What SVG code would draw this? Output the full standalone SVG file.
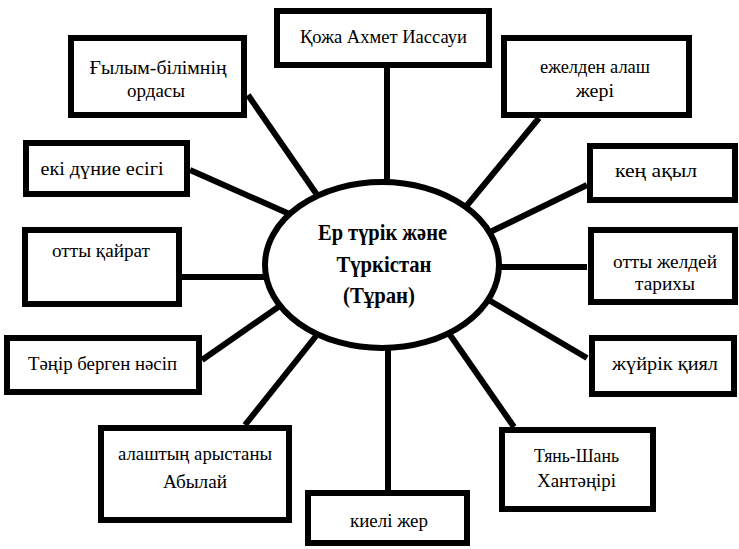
<svg xmlns="http://www.w3.org/2000/svg" width="739" height="549" viewBox="0 0 739 549" font-family="Liberation Serif, serif">
<style>
.box{fill:#fff;stroke:#000;stroke-width:6}
.t{font-size:19.5px;fill:#000;text-anchor:middle}
.c{font-size:24px;font-weight:bold;fill:#000;text-anchor:middle}
.ln{stroke:#000;stroke-width:6;fill:none}
</style>
<rect width="739" height="549" fill="#fff"/>
<g id="connectors">
<line class="ln" x1="248" y1="95" x2="322" y2="202"/>
<line class="ln" x1="190" y1="170" x2="294" y2="216"/>
<line class="ln" x1="182" y1="277" x2="272" y2="277"/>
<line class="ln" x1="387" y1="68" x2="387" y2="190"/>
<line class="ln" x1="539" y1="118" x2="464" y2="209"/>
<line class="ln" x1="587" y1="185" x2="488" y2="233"/>
<line class="ln" x1="496" y1="267" x2="587" y2="267"/>
<line class="ln" x1="487" y1="299" x2="587" y2="358"/>
<line class="ln" x1="448" y1="332" x2="514" y2="427"/>
<line class="ln" x1="388" y1="340" x2="388" y2="490"/>
<line class="ln" x1="320" y1="331" x2="245" y2="425"/>
<line class="ln" x1="284" y1="303" x2="202" y2="360"/>
</g>
<g id="center">
<ellipse class="box" cx="382" cy="265" rx="117" ry="83"/>
<text class="c" x="382.5" y="240" textLength="129" lengthAdjust="spacingAndGlyphs">Ер түрік және</text>
<text class="c" x="384" y="272" textLength="95" lengthAdjust="spacingAndGlyphs">Түркістан</text>
<text class="c" x="379" y="303" textLength="72" lengthAdjust="spacingAndGlyphs">(Тұран)</text>
</g>
<g id="n-kozha">
<rect class="box" x="277" y="11" width="212" height="54"/>
<text class="t" x="383.5" y="43" textLength="167" lengthAdjust="spacingAndGlyphs">Қожа Ахмет Иассауи</text>
</g>
<g id="n-gylym">
<rect class="box" x="71" y="38" width="173" height="77"/>
<text class="t" x="158" y="74" textLength="137" lengthAdjust="spacingAndGlyphs">Ғылым-білімнің</text>
<text class="t" x="156" y="97" textLength="58" lengthAdjust="spacingAndGlyphs">ордасы</text>
</g>
<g id="n-ezhelden">
<rect class="box" x="504" y="38" width="185" height="77"/>
<text class="t" x="595" y="73" textLength="110" lengthAdjust="spacingAndGlyphs">ежелден алаш</text>
<text class="t" x="595" y="97" textLength="38" lengthAdjust="spacingAndGlyphs">жері</text>
</g>
<g id="n-eki">
<rect class="box" x="26" y="143" width="161" height="51"/>
<text class="t" x="102" y="175" textLength="123" lengthAdjust="spacingAndGlyphs">екі дүние есігі</text>
</g>
<g id="n-ken">
<rect class="box" x="590" y="146" width="145" height="54"/>
<text class="t" x="656" y="177" textLength="82" lengthAdjust="spacingAndGlyphs">кең ақыл</text>
</g>
<g id="n-kairat">
<rect class="box" x="25" y="230" width="154" height="74"/>
<text class="t" x="101" y="257" textLength="98" lengthAdjust="spacingAndGlyphs">отты қайрат</text>
</g>
<g id="n-zheldei">
<rect class="box" x="591" y="230" width="144" height="72"/>
<text class="t" x="665" y="268" textLength="104" lengthAdjust="spacingAndGlyphs">отты желдей</text>
<text class="t" x="665" y="290" textLength="60" lengthAdjust="spacingAndGlyphs">тарихы</text>
</g>
<g id="n-tanir">
<rect class="box" x="7" y="338" width="192" height="54"/>
<text class="t" x="102.5" y="370" textLength="149" lengthAdjust="spacingAndGlyphs">Тәңір берген нәсіп</text>
</g>
<g id="n-zhuirik">
<rect class="box" x="592" y="338" width="142" height="56"/>
<text class="t" x="665" y="370" textLength="106" lengthAdjust="spacingAndGlyphs">жүйрік қиял</text>
</g>
<g id="n-alash">
<rect class="box" x="101" y="428" width="188" height="92"/>
<text class="t" x="195" y="460" textLength="154" lengthAdjust="spacingAndGlyphs">алаштың арыстаны</text>
<text class="t" x="195" y="488" textLength="64" lengthAdjust="spacingAndGlyphs">Абылай</text>
</g>
<g id="n-tian">
<rect class="box" x="502" y="430" width="151" height="79"/>
<text class="t" x="576.5" y="462" textLength="85" lengthAdjust="spacingAndGlyphs">Тянь-Шань</text>
<text class="t" x="576.5" y="487" textLength="79" lengthAdjust="spacingAndGlyphs">Хантәңірі</text>
</g>
<g id="n-kieli">
<rect class="box" x="308" y="493" width="159" height="50"/>
<text class="t" x="389" y="527" textLength="78" lengthAdjust="spacingAndGlyphs">киелі жер</text>
</g>
</svg>
